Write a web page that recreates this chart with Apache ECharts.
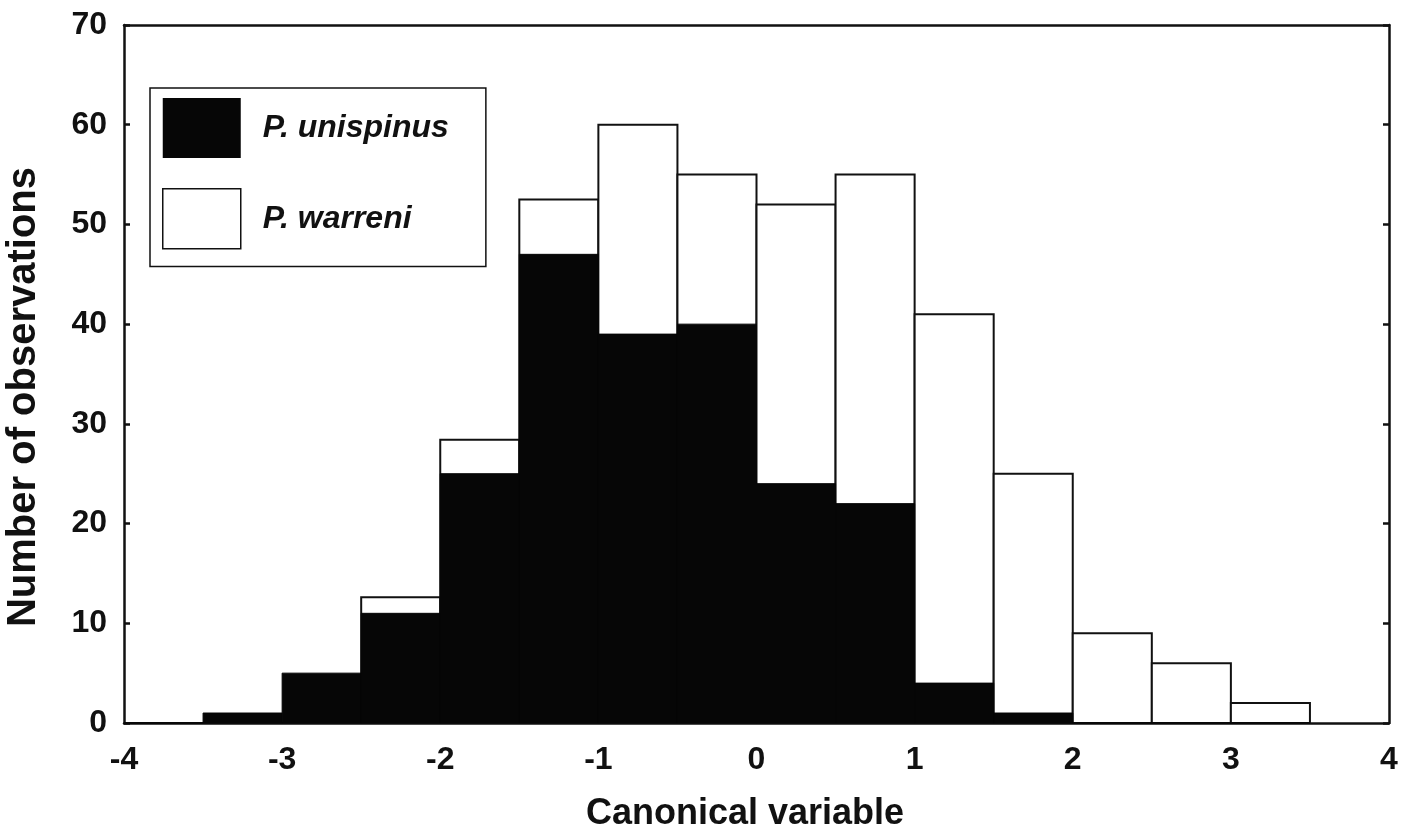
<!DOCTYPE html>
<html>
<head>
<meta charset="utf-8">
<script src="https://cdn.jsdelivr.net/npm/echarts@6/dist/echarts.min.js"></script>
<style>
  html, body { margin: 0; padding: 0; background: #fff; }
  #chart { width: 1403px; height: 836px; }
</style>
</head>
<body>
<div id="chart"></div>
<script>
// Histogram bins: left edge of each 0.5-wide class of the canonical variable
const binStarts = [-4, -3.5, -3, -2.5, -2, -1.5, -1, -0.5, 0, 0.5, 1, 1.5, 2, 2.5, 3];
const binWidth = 0.5;
// Counts per bin for each species
const unispinus = [0, 1, 5, 11, 25, 47, 39, 40, 24, 22, 4, 1, 0, 0, 0];
const warreni   = [0, 0, 0, 12.6, 28.4, 52.5, 60, 55, 52, 55, 41, 25, 9, 6, 2];
// Axis ticks
const xTicks = [-4, -3, -2, -1, 0, 1, 2, 3, 4];
const yTicks = [0, 10, 20, 30, 40, 50, 60, 70];

const seriesNames = ['P. unispinus', 'P. warreni'];
const FONT = '"Liberation Sans", Arial, Helvetica, sans-serif';

function toRows(counts) {
  return binStarts.map((x0, i) => [x0, x0 + binWidth, counts[i]]);
}

// Each bin is drawn as a rectangle from the zero line up to its count
function histItem(fill, stroke, lineWidth) {
  return function (params, api) {
    const x0 = api.value(0), x1 = api.value(1), v = api.value(2);
    const p0 = api.coord([x0, 0]);
    const p1 = api.coord([x1, v]);
    return {
      type: 'rect',
      shape: { x: p0[0], y: p1[1], width: p1[0] - p0[0], height: p0[1] - p1[1] },
      style: { fill: fill, stroke: stroke, lineWidth: lineWidth }
    };
  };
}

const chart = echarts.init(document.getElementById('chart'), null, { renderer: 'canvas' });

const axisLabelStyle = { color: '#111', fontFamily: FONT, fontWeight: 'bold', fontSize: 32 };
const frameLine = { show: true, onZero: false, lineStyle: { color: '#111', width: 2.5 } };

chart.setOption({
  animation: false,
  backgroundColor: '#fff',
  grid: { left: 124, right: 14, top: 25, bottom: 113, containLabel: false },
  xAxis: [
    {
      type: 'value', min: xTicks[0], max: xTicks[xTicks.length - 1], interval: 1,
      position: 'bottom',
      axisLine: frameLine,
      axisTick: { show: false },
      splitLine: { show: false },
      axisLabel: Object.assign({ margin: 21 }, axisLabelStyle)
    },
    {
      type: 'value', min: xTicks[0], max: xTicks[xTicks.length - 1], interval: 1,
      position: 'top',
      axisLine: frameLine,
      axisTick: { show: false },
      axisLabel: { show: false },
      splitLine: { show: false }
    }
  ],
  yAxis: [
    {
      type: 'value', min: yTicks[0], max: yTicks[yTicks.length - 1], interval: 10,
      position: 'left',
      axisLine: frameLine,
      axisTick: { show: true, inside: true, length: 6, lineStyle: { color: '#111', width: 2.5 } },
      splitLine: { show: false },
      axisLabel: Object.assign({ margin: 17 }, axisLabelStyle)
    },
    {
      type: 'value', min: yTicks[0], max: yTicks[yTicks.length - 1], interval: 10,
      position: 'right',
      axisLine: frameLine,
      axisTick: { show: true, inside: true, length: 6, lineStyle: { color: '#111', width: 2.5 } },
      splitLine: { show: false },
      axisLabel: { show: false }
    }
  ],
  legend: {
    orient: 'vertical',
    left: 150, top: 88,
    padding: [10, 37, 17, 12],
    borderColor: '#111', borderWidth: 1.5,
    itemWidth: 78, itemHeight: 60, itemGap: 30,
    icon: 'rect',
    selectedMode: false,
    textStyle: {
      color: '#111', fontFamily: FONT, fontWeight: 'bold', fontStyle: 'italic', fontSize: 32,
      padding: [0, 0, 0, 17]
    },
    data: [
      { name: seriesNames[0], itemStyle: { color: '#060606', borderColor: '#060606', borderWidth: 0 } },
      { name: seriesNames[1], itemStyle: { color: '#fff', borderColor: '#111', borderWidth: 1.5 } }
    ]
  },
  graphic: [
    {
      type: 'text',
      x: 24, y: 397, rotation: Math.PI / 2,
      style: {
        text: 'Number of observations', fill: '#111',
        font: 'bold 40px ' + FONT, textAlign: 'center', textVerticalAlign: 'middle'
      }
    },
    {
      type: 'text',
      x: 745, y: 814,
      style: {
        text: 'Canonical variable', fill: '#111',
        font: 'bold 36px ' + FONT, textAlign: 'center', textVerticalAlign: 'middle'
      }
    }
  ],
  series: [
    {
      name: seriesNames[1], type: 'custom', xAxisIndex: 0, yAxisIndex: 0,
      renderItem: histItem('#fff', '#111', 2),
      itemStyle: { color: '#fff', borderColor: '#111', borderWidth: 1.5 },
      encode: { x: [0, 1], y: 2 },
      data: toRows(warreni), z: 2
    },
    {
      name: seriesNames[0], type: 'custom', xAxisIndex: 0, yAxisIndex: 0,
      renderItem: histItem('#060606', '#060606', 1),
      itemStyle: { color: '#060606' },
      encode: { x: [0, 1], y: 2 },
      data: toRows(unispinus), z: 3
    }
  ]
});
</script>
</body>
</html>
